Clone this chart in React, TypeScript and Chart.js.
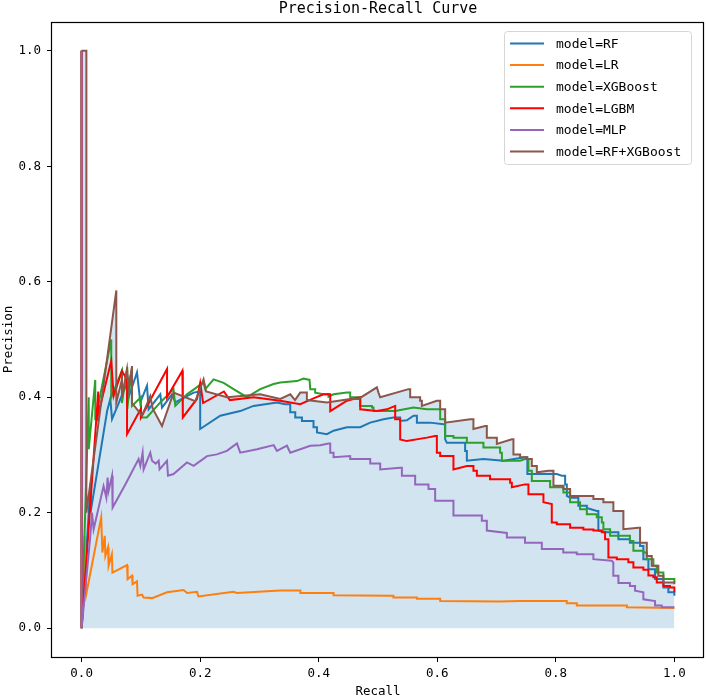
import { useEffect, useRef } from "react";
import { Chart, registerables } from "chart.js";

Chart.register(...registerables);

const MODELS = ["model=RF", "model=LR", "model=XGBoost", "model=LGBM", "model=MLP", "model=RF+XGBoost"];
const COLORS = ["#1f77b4", "#ff7f0e", "#2ca02c", "#ff0000", "#9467bd", "#8c564b"];
const FILL_COLOR = "rgba(31,119,180,0.2)";
const TICKS = [0, 0.2, 0.4, 0.6, 0.8, 1.0];

// [recall, precision] pairs (stair corners included)
const RF = [
    [0, 1], [0, 0], [0.015, 0.25], [0.015, 0.2], [0.043, 0.376], [0.0484, 0.397], [0.0513, 0.362],
    [0.0793, 0.431], [0.0793, 0.4], [0.0934, 0.443], [0.099, 0.391], [0.1103, 0.42], [0.113, 0.379],
    [0.1327, 0.405], [0.1356, 0.382], [0.1524, 0.405], [0.158, 0.391], [0.1889, 0.408], [0.2, 0.41],
    [0.2, 0.345], [0.2339, 0.368], [0.2676, 0.376], [0.29, 0.385], [0.3295, 0.391], [0.3435, 0.388],
    [0.352, 0.388], [0.352, 0.374], [0.3604, 0.374], [0.3604, 0.365], [0.3717, 0.365], [0.3717, 0.359],
    [0.3912, 0.359], [0.3912, 0.348], [0.397, 0.348], [0.397, 0.339], [0.4138, 0.336], [0.425, 0.342],
    [0.4476, 0.348], [0.47, 0.348], [0.4869, 0.356], [0.5093, 0.362], [0.5261, 0.365], [0.5374, 0.365],
    [0.5374, 0.359], [0.5487, 0.36], [0.5599, 0.368], [0.5656, 0.368], [0.5656, 0.356], [0.588, 0.356],
    [0.6105, 0.353], [0.6133, 0.353], [0.6133, 0.327], [0.6162, 0.321], [0.647, 0.321], [0.647, 0.307],
    [0.6499, 0.307], [0.6499, 0.29], [0.6779, 0.293], [0.7116, 0.29], [0.748, 0.296], [0.752, 0.296],
    [0.752, 0.267], [0.8017, 0.267], [0.8101, 0.264], [0.8157, 0.264], [0.8157, 0.249], [0.8186, 0.249],
    [0.8186, 0.229], [0.8241, 0.226], [0.838, 0.226], [0.838, 0.212], [0.8523, 0.212], [0.8523, 0.208],
    [0.8691, 0.203], [0.8718, 0.203], [0.8718, 0.169], [0.886, 0.166], [0.9056, 0.166], [0.9056, 0.154],
    [0.925, 0.154], [0.925, 0.148], [0.9421, 0.148], [0.9421, 0.1425], [0.9477, 0.1425], [0.9477, 0.1195],
    [0.9562, 0.1195], [0.9562, 0.102], [0.9674, 0.102], [0.9674, 0.085], [0.9815, 0.085], [0.9815, 0.0705],
    [0.9899, 0.0705], [0.9899, 0.062], [1.0, 0.062], [1.0, 0.056],
];

const LR = [
    [0, 1], [0, 0], [0.005, 0.16], [0.008, 0.06], [0.033, 0.192], [0.035, 0.131], [0.039, 0.16],
    [0.04, 0.125], [0.0445, 0.14], [0.0455, 0.108], [0.051, 0.128], [0.052, 0.096], [0.0766, 0.109],
    [0.0776, 0.085], [0.085, 0.091], [0.086, 0.076], [0.0934, 0.081], [0.0944, 0.056], [0.102, 0.058],
    [0.1046, 0.053], [0.119, 0.052], [0.144, 0.062], [0.172, 0.066], [0.178, 0.061], [0.1946, 0.063],
    [0.197, 0.055], [0.256, 0.063], [0.262, 0.061], [0.335, 0.065], [0.369, 0.065], [0.369, 0.061],
    [0.425, 0.061], [0.425, 0.057], [0.5206, 0.056], [0.526, 0.056], [0.526, 0.053], [0.5656, 0.053],
    [0.5656, 0.051], [0.605, 0.051], [0.605, 0.047], [0.706, 0.046], [0.74, 0.047], [0.8185, 0.047],
    [0.8185, 0.043], [0.8354, 0.043], [0.8354, 0.039], [0.92, 0.039], [0.92, 0.036], [1.0, 0.035],
];

const XGB = [
    [0, 1], [0, 0], [0.012, 0.4], [0.012, 0.31], [0.023, 0.43], [0.023, 0.36], [0.05, 0.5], [0.05, 0.4],
    [0.068, 0.446], [0.068, 0.39], [0.077, 0.452], [0.077, 0.38], [0.085, 0.452], [0.085, 0.385],
    [0.1, 0.4], [0.1, 0.365], [0.11, 0.365], [0.1327, 0.391], [0.155, 0.414], [0.158, 0.385],
    [0.1777, 0.405], [0.2057, 0.4255], [0.2086, 0.414], [0.2226, 0.431], [0.2395, 0.425], [0.2563, 0.414],
    [0.2789, 0.4], [0.3013, 0.414], [0.3238, 0.423], [0.3351, 0.4255], [0.3632, 0.428], [0.3744, 0.4325],
    [0.3845, 0.43], [0.3857, 0.414], [0.394, 0.414], [0.394, 0.408], [0.408, 0.405], [0.4165, 0.405],
    [0.4165, 0.401], [0.425, 0.405], [0.4476, 0.408], [0.4531, 0.408], [0.4531, 0.4], [0.47, 0.4],
    [0.47, 0.385], [0.4897, 0.385], [0.4897, 0.382], [0.4924, 0.382], [0.4924, 0.376], [0.529, 0.376],
    [0.5599, 0.382], [0.5825, 0.379], [0.6049, 0.379], [0.6049, 0.362], [0.6133, 0.362], [0.6133, 0.333],
    [0.6273, 0.333], [0.6273, 0.33], [0.6499, 0.33], [0.6499, 0.321], [0.6723, 0.321], [0.6779, 0.321],
    [0.6779, 0.313], [0.706, 0.313], [0.706, 0.304], [0.709, 0.304], [0.709, 0.29], [0.7398, 0.29],
    [0.748, 0.293], [0.7538, 0.293], [0.7538, 0.2725], [0.7595, 0.2725], [0.7595, 0.255], [0.7904, 0.255],
    [0.7904, 0.244], [0.8128, 0.244], [0.8128, 0.235], [0.8241, 0.235], [0.8241, 0.218], [0.8409, 0.218],
    [0.8409, 0.206], [0.8523, 0.206], [0.8523, 0.1975], [0.8691, 0.1975], [0.8691, 0.192], [0.8776, 0.192],
    [0.8776, 0.183], [0.8803, 0.183], [0.8803, 0.1715], [0.8916, 0.1715], [0.8916, 0.16], [0.925, 0.16],
    [0.925, 0.151], [0.9309, 0.151], [0.9309, 0.134], [0.9477, 0.134], [0.9477, 0.131], [0.9535, 0.131],
    [0.9535, 0.1195], [0.9646, 0.1195], [0.9646, 0.108], [0.9703, 0.108], [0.9703, 0.0965], [0.9815, 0.0965],
    [0.9815, 0.085], [1.0, 0.085], [1.0, 0.079],
];

const LGBM = [
    [0, 1], [0, 0], [0.028, 0.41], [0.028, 0.37], [0.05, 0.463], [0.054, 0.402], [0.068, 0.446],
    [0.0766, 0.43], [0.0766, 0.336], [0.1, 0.38], [0.1, 0.365], [0.1441, 0.449], [0.1441, 0.4],
    [0.17, 0.446], [0.1707, 0.365], [0.1945, 0.397], [0.2, 0.425], [0.205, 0.39], [0.24, 0.41],
    [0.25, 0.395], [0.29, 0.4], [0.3351, 0.394], [0.3688, 0.388], [0.3912, 0.398], [0.4081, 0.405],
    [0.4194, 0.405], [0.4194, 0.376], [0.4476, 0.394], [0.47, 0.4], [0.47, 0.379], [0.4981, 0.376],
    [0.515, 0.379], [0.529, 0.385], [0.529, 0.362], [0.5374, 0.362], [0.5374, 0.327], [0.5487, 0.324],
    [0.5825, 0.33], [0.5964, 0.333], [0.5993, 0.333], [0.5993, 0.304], [0.6049, 0.304], [0.6049, 0.298],
    [0.6273, 0.298], [0.6273, 0.275], [0.6499, 0.281], [0.661, 0.281], [0.661, 0.2725], [0.6668, 0.2725],
    [0.6668, 0.264], [0.689, 0.264], [0.689, 0.258], [0.7229, 0.258], [0.7229, 0.252], [0.7258, 0.252],
    [0.7258, 0.244], [0.748, 0.249], [0.7538, 0.249], [0.7538, 0.232], [0.7791, 0.232], [0.7791, 0.218],
    [0.7932, 0.215], [0.7932, 0.183], [0.8017, 0.183], [0.8017, 0.18], [0.8241, 0.18], [0.8241, 0.174],
    [0.8465, 0.174], [0.8465, 0.171], [0.8634, 0.171], [0.8634, 0.169], [0.8776, 0.169], [0.8776, 0.166],
    [0.8831, 0.166], [0.8831, 0.154], [0.8887, 0.154], [0.8887, 0.1225], [0.9029, 0.1225], [0.9029, 0.1195],
    [0.9224, 0.1195], [0.9224, 0.114], [0.9309, 0.114], [0.9309, 0.105], [0.9477, 0.105], [0.9477, 0.101],
    [0.9562, 0.101], [0.9562, 0.091], [0.9646, 0.091], [0.9646, 0.088], [0.9703, 0.088], [0.9703, 0.079],
    [0.9815, 0.079], [0.9815, 0.073], [0.9927, 0.073], [0.9927, 0.0705], [1.0, 0.0705], [1.0, 0.062],
];

const MLP = [
    [0, 1], [0, 0], [0.0147, 0.16], [0.0175, 0.2], [0.0202, 0.171], [0.037, 0.246], [0.0417, 0.226],
    [0.0438, 0.261], [0.0455, 0.238], [0.0513, 0.264], [0.0523, 0.209], [0.0737, 0.249], [0.0961, 0.293],
    [0.099, 0.281], [0.1029, 0.304], [0.1046, 0.275], [0.1158, 0.304], [0.1187, 0.29], [0.125, 0.285],
    [0.13, 0.29], [0.1315, 0.275], [0.144, 0.29], [0.1457, 0.264], [0.155, 0.267], [0.1777, 0.287],
    [0.189, 0.281], [0.2115, 0.298], [0.228, 0.301], [0.245, 0.307], [0.262, 0.32], [0.2676, 0.304],
    [0.296, 0.31], [0.324, 0.317], [0.3295, 0.307], [0.3464, 0.316], [0.352, 0.304], [0.3857, 0.316],
    [0.4026, 0.317], [0.4165, 0.32], [0.4194, 0.32], [0.4194, 0.304], [0.425, 0.304], [0.425, 0.296],
    [0.4531, 0.298], [0.4531, 0.293], [0.4869, 0.293], [0.4869, 0.285], [0.5037, 0.285], [0.5037, 0.275],
    [0.5374, 0.278], [0.5403, 0.278], [0.5403, 0.264], [0.5627, 0.264], [0.5627, 0.249], [0.5852, 0.249],
    [0.5852, 0.241], [0.5964, 0.241], [0.5964, 0.2205], [0.6273, 0.2205], [0.6273, 0.195], [0.6752, 0.195],
    [0.6752, 0.186], [0.6836, 0.186], [0.6836, 0.169], [0.7174, 0.165], [0.7174, 0.157], [0.748, 0.157],
    [0.748, 0.148], [0.7764, 0.148], [0.7764, 0.137], [0.8125, 0.137], [0.8125, 0.131], [0.8354, 0.131],
    [0.8354, 0.128], [0.8634, 0.128], [0.8634, 0.1195], [0.8944, 0.1166], [0.897, 0.114], [0.897, 0.0906],
    [0.9056, 0.0906], [0.9056, 0.078], [0.925, 0.078], [0.925, 0.073], [0.9337, 0.073], [0.9337, 0.065],
    [0.9477, 0.062], [0.9477, 0.05], [0.9674, 0.047], [0.9674, 0.039], [0.9787, 0.039], [0.9787, 0.036],
    [1.0, 0.036],
];

const RF_XGB = [
    [0, 1], [0.008, 1], [0.008, 0.2], [0.0585, 0.585], [0.0585, 0.391], [0.0681, 0.431], [0.0681, 0.4],
    [0.0766, 0.449], [0.0793, 0.414], [0.085, 0.454], [0.085, 0.39], [0.1019, 0.368], [0.1158, 0.402],
    [0.12, 0.38], [0.1356, 0.35], [0.1551, 0.408], [0.1917, 0.393], [0.2057, 0.431], [0.21, 0.41],
    [0.2452, 0.4], [0.3013, 0.405], [0.3351, 0.397], [0.352, 0.405], [0.36, 0.395], [0.3688, 0.408],
    [0.38, 0.408], [0.38, 0.395], [0.4138, 0.391], [0.4531, 0.397], [0.4671, 0.397], [0.4981, 0.417],
    [0.5008, 0.408], [0.5037, 0.4], [0.5514, 0.414], [0.5543, 0.414], [0.5543, 0.4], [0.5711, 0.4],
    [0.5711, 0.394], [0.574, 0.394], [0.574, 0.385], [0.5993, 0.394], [0.6049, 0.394], [0.6049, 0.379],
    [0.6133, 0.379], [0.6133, 0.356], [0.6555, 0.362], [0.661, 0.362], [0.661, 0.345], [0.6808, 0.35],
    [0.6836, 0.35], [0.6836, 0.33], [0.7005, 0.33], [0.7005, 0.319], [0.7258, 0.327], [0.7285, 0.327],
    [0.7285, 0.301], [0.7398, 0.301], [0.7398, 0.296], [0.7511, 0.296], [0.7511, 0.293], [0.7595, 0.293],
    [0.7595, 0.281], [0.768, 0.281], [0.768, 0.27], [0.7875, 0.2725], [0.796, 0.2725], [0.796, 0.2465],
    [0.8128, 0.2465], [0.8128, 0.241], [0.8241, 0.241], [0.8241, 0.229], [0.8634, 0.229], [0.8634, 0.2235],
    [0.8803, 0.2235], [0.8803, 0.218], [0.8971, 0.218], [0.8971, 0.203], [0.914, 0.203], [0.914, 0.1715],
    [0.9393, 0.174], [0.9421, 0.174], [0.9421, 0.148], [0.9535, 0.148], [0.9535, 0.125], [0.9619, 0.125],
    [0.9619, 0.108], [0.973, 0.108], [0.973, 0.0906], [0.9815, 0.0906], [0.9815, 0.079], [1.0, 0.079],
    [1.0, 0.076],
];

const CURVES = [RF, LR, XGB, LGBM, MLP, RF_XGB];
const FONT = "'DejaVu Sans Mono', monospace";

// axes frame, title and legend box drawn like matplotlib
const decorations = {
    id: "decorations",
    afterDraw(chart: Chart) {
        const { ctx, chartArea: a } = chart;
        ctx.save();
        ctx.strokeStyle = "#000";
        ctx.lineWidth = 1.2;
        ctx.strokeRect(a.left - 0.5, a.top + 0.5, a.right - a.left, a.bottom - a.top);

        ctx.fillStyle = "#000";
        ctx.font = `15px ${FONT}`;
        ctx.textAlign = "center";
        ctx.textBaseline = "middle";
        ctx.fillText("Precision-Recall Curve", (a.left + a.right) / 2, 9);

        const bx = 504.5, by = 31.5, bw = 187, bh = 133;
        ctx.beginPath();
        ctx.roundRect(bx, by, bw, bh, 3);
        ctx.fillStyle = "rgba(255,255,255,0.8)";
        ctx.fill();
        ctx.strokeStyle = "#d6d6d6";
        ctx.lineWidth = 1;
        ctx.stroke();

        ctx.font = `13px ${FONT}`;
        ctx.textAlign = "left";
        chart.data.datasets.forEach((ds, i) => {
            const y = 43.5 + i * 21.6;
            ctx.strokeStyle = ds.borderColor as string;
            ctx.lineWidth = 2;
            ctx.beginPath();
            ctx.moveTo(510, y);
            ctx.lineTo(544, y);
            ctx.stroke();
            ctx.fillStyle = "#000";
            ctx.fillText(ds.label as string, 556, y + 1);
        });
        ctx.restore();
    },
};

export default function App() {
    const canvasRef = useRef<HTMLCanvasElement>(null);
    const chartRef = useRef<Chart | null>(null);

    useEffect(() => {
        if (!canvasRef.current) return;
        chartRef.current?.destroy();

        chartRef.current = new Chart(canvasRef.current, {
            type: "line",
            data: {
                datasets: CURVES.map((curve, i) => ({
                    label: MODELS[i],
                    data: curve.map(([x, y]) => ({ x, y })),
                    borderColor: COLORS[i],
                    backgroundColor: i === CURVES.length - 1 ? FILL_COLOR : COLORS[i],
                    fill: i === CURVES.length - 1 ? "origin" : false,
                    borderWidth: 2,
                    pointRadius: 0,
                    tension: 0,
                    order: CURVES.length - i,
                })),
            },
            options: {
                animation: false,
                responsive: true,
                maintainAspectRatio: false,
                events: [],
                layout: { padding: { top: 22, right: 2, left: 0, bottom: 0 } },
                plugins: {
                    legend: { display: false },
                    title: { display: false },
                    tooltip: { enabled: false },
                    filler: { propagate: false, drawTime: "beforeDatasetsDraw" },
                },
                scales: {
                    x: {
                        type: "linear",
                        min: -0.05,
                        max: 1.05,
                        afterBuildTicks: (s) => {
                            s.ticks = TICKS.map((v) => ({ value: v }));
                        },
                        afterFit: (s) => {
                            s.height = 42;
                        },
                        grid: { drawOnChartArea: false, drawTicks: true, tickLength: 5, color: "#000" },
                        border: { display: false },
                        ticks: {
                            callback: (v) => Number(v).toFixed(1),
                            padding: 4,
                            color: "#000",
                            font: { family: FONT, size: 12.5 },
                            maxRotation: 0,
                            autoSkip: false,
                        },
                        title: {
                            display: true,
                            text: "Recall",
                            color: "#000",
                            font: { family: FONT, size: 12.5 },
                            padding: 0,
                        },
                    },
                    y: {
                        type: "linear",
                        min: -0.05,
                        max: 1.05,
                        afterBuildTicks: (s) => {
                            s.ticks = TICKS.map((v) => ({ value: v }));
                        },
                        afterFit: (s) => {
                            s.width = 52;
                        },
                        grid: { drawOnChartArea: false, drawTicks: true, tickLength: 5, color: "#000" },
                        border: { display: false },
                        ticks: {
                            callback: (v) => Number(v).toFixed(1),
                            padding: 6,
                            color: "#000",
                            font: { family: FONT, size: 12.5 },
                            autoSkip: false,
                        },
                        title: {
                            display: true,
                            text: "Precision",
                            color: "#000",
                            font: { family: FONT, size: 12.5 },
                            padding: { top: 1, bottom: 0 },
                        },
                    },
                },
            },
            plugins: [decorations],
        });

        return () => {
            chartRef.current?.destroy();
            chartRef.current = null;
        };
    }, []);

    return (
        <div style={{ position: "fixed", left: 0, top: 0, width: 706, height: 699, background: "#fff" }}>
            <canvas ref={canvasRef} role="img" aria-label="Precision-recall curves of six models" />
        </div>
    );
}
